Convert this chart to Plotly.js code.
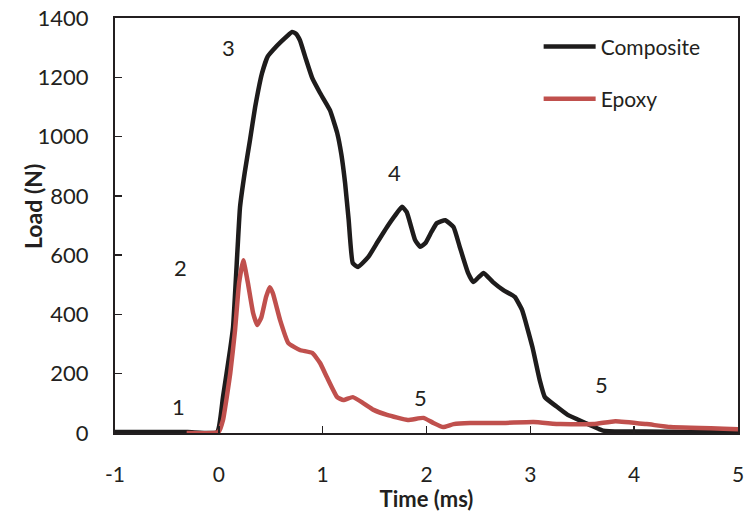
<!DOCTYPE html>
<html><head><meta charset="utf-8">
<script src="https://cdn.plot.ly/plotly-3.0.1.min.js"></script>
<style>html,body{margin:0;padding:0;background:#fff}#chart{width:746px;height:512px}</style>
</head><body><div id="chart"></div>
<script>
const compositeTime = [-1, -0.3, -0.017, 0.04, 0.108, 0.137, 0.18, 0.204, 0.25, 0.30, 0.35, 0.416, 0.47, 0.522, 0.6, 0.705, 0.74, 0.78, 0.84, 0.90, 0.975, 1.07, 1.14, 1.18, 1.216, 1.25, 1.29, 1.34, 1.44, 1.53, 1.62, 1.70, 1.765, 1.81, 1.89, 1.94, 1.99, 2.05, 2.10, 2.18, 2.26, 2.32, 2.40, 2.45, 2.50, 2.55, 2.64, 2.74, 2.85, 2.92, 3.02, 3.09, 3.14, 3.25, 3.36, 3.51, 3.70, 3.9, 4.1, 4.5, 5.0];
const compositeLoad = [3, 3, 3, 121, 280, 357, 620, 762, 880, 988, 1100, 1214, 1270, 1292, 1320, 1353, 1348, 1326, 1260, 1197, 1147, 1089, 1012, 940, 843, 720, 573, 560, 594, 645, 695, 735, 763, 745, 651, 628, 641, 680, 708, 718, 695, 628, 540, 509, 525, 540, 509, 482, 459, 415, 290, 179, 121, 90, 61, 37, 8, 5, 5, 3, 3];
const epoxyTime = [-0.31, -0.05, 0.0, 0.04, 0.11, 0.156, 0.195, 0.235, 0.28, 0.33, 0.37, 0.41, 0.455, 0.49, 0.52, 0.59, 0.67, 0.78, 0.90, 0.975, 1.04, 1.14, 1.20, 1.29, 1.39, 1.49, 1.62, 1.82, 1.97, 2.06, 2.16, 2.26, 2.42, 2.74, 3.03, 3.29, 3.61, 3.82, 4.12, 4.35, 5.0];
const epoxyLoad = [0, 0, 5, 44, 202, 347, 506, 583, 506, 405, 364, 391, 459, 492, 472, 381, 303, 280, 270, 236, 189, 121, 111, 121, 101, 78, 61, 44, 51, 35, 20, 30, 34, 34, 37, 30, 30, 40, 30, 20, 13];
const xTicks = [-1, 0, 1, 2, 3, 4, 5];
const yTicks = [0, 200, 400, 600, 800, 1000, 1200, 1400];
const stageLabels = ['1', '2', '3', '4', '5', '5'];
const stageX = [-0.39, -0.37, 0.09, 1.69, 1.94, 3.69];
const stageY = [88, 557, 1302, 880, 121, 162];

const FONT = 'Lato, "Open Sans", sans-serif';
const INK = '#231f20';

const traces = [
  {x: compositeTime, y: compositeLoad, name: 'Composite', mode: 'lines', legendgroup: 'a',
   line: {color: '#1e1c1c', width: 4.5, shape: 'spline', smoothing: 0.4}},
  {x: epoxyTime, y: epoxyLoad, name: 'Epoxy', mode: 'lines', legendgroup: 'b',
   line: {color: '#c0504d', width: 4.5, shape: 'spline', smoothing: 0.4}}
];

const layout = {
  width: 746, height: 512,
  margin: {l: 115, r: 8, t: 18, b: 79},
  paper_bgcolor: '#fff', plot_bgcolor: '#fff',
  font: {family: FONT, size: 22, color: INK},
  showlegend: true,
  legend: {x: 0.68, y: 0.98, xanchor: 'left', yanchor: 'top', bgcolor: 'rgba(0,0,0,0)',
           font: {family: FONT, size: 21, color: INK}, tracegroupgap: 22, itemwidth: 52},
  xaxis: {range: [-1, 5], tickvals: xTicks, ticktext: xTicks.map(String),
          showgrid: false, zeroline: false, showline: true, linecolor: INK, linewidth: 2,
          mirror: true, ticks: 'inside', ticklen: 7, tickwidth: 1.5, tickcolor: INK,
          ticklabelstandoff: 22, tickfont: {family: FONT, size: 21, color: INK},
          title: {text: '<b>Time (ms)</b>', font: {family: FONT, size: 22, color: INK}, standoff: 4}},
  yaxis: {range: [0, 1400], tickvals: yTicks, ticktext: yTicks.map(String),
          showgrid: false, zeroline: false, showline: true, linecolor: INK, linewidth: 2,
          mirror: true, ticks: 'inside', ticklen: 7, tickwidth: 1.5, tickcolor: INK,
          ticklabelstandoff: 20, tickfont: {family: FONT, size: 22, color: INK}},
  annotations: stageLabels.map((t, i) => ({x: stageX[i], y: stageY[i], xref: 'x', yref: 'y',
      text: t, showarrow: false, font: {family: FONT, size: 22, color: INK}})).concat([
      {x: 17, y: 207, xref: 'paper', yref: 'paper', text: '<b>Load (N)</b>', textangle: -90,
       showarrow: false, font: {family: FONT, size: 23, color: INK}}])
};
// position the y-axis title by pixel via paper fractions
const plotW = 746 - 115 - 8, plotH = 512 - 18 - 79;
const ann = layout.annotations[layout.annotations.length - 1];
ann.x = (17 - 115) / plotW;
ann.y = (433 - 207) / plotH;

Plotly.newPlot('chart', traces, layout, {displayModeBar: false, staticPlot: true});
</script></body></html>
